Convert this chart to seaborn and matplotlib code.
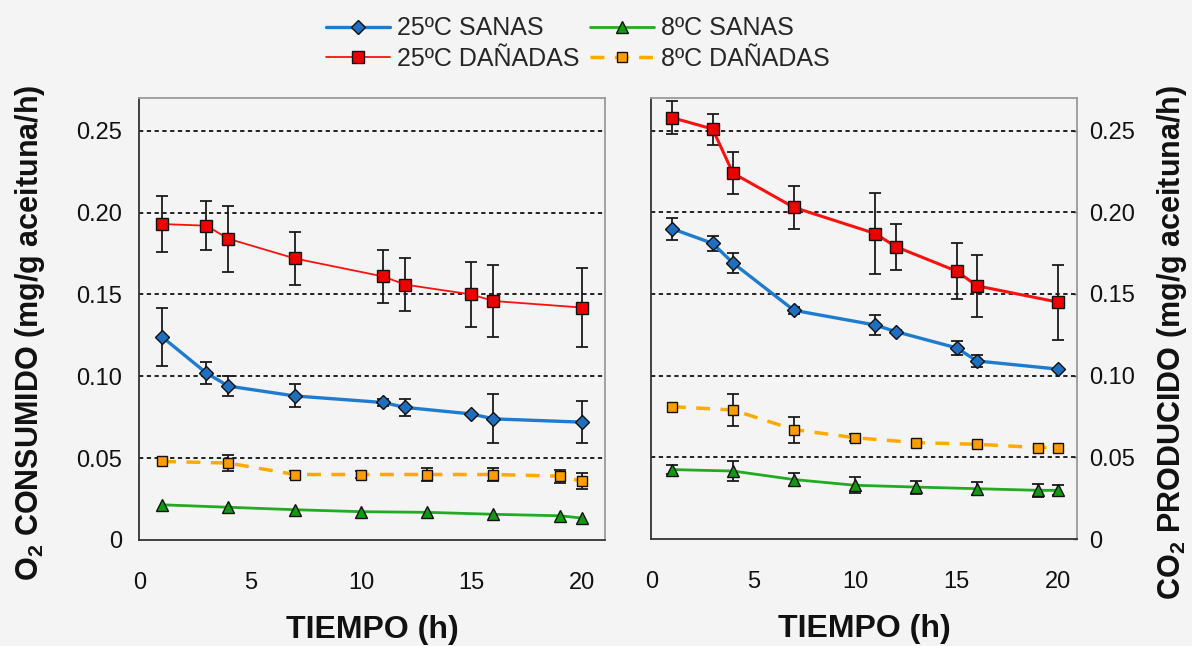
import matplotlib
matplotlib.use("Agg")
import matplotlib.pyplot as plt
from matplotlib.ticker import FixedLocator
import seaborn as sns

# ---------------- data ----------------
hours_a = [1, 3, 4, 7, 11, 12, 15, 16, 20]          # 25 ºC series
hours_b = [1, 4, 7, 10, 13, 16, 19, 20]             # 8 ºC series

# O2 consumed (left panel)
o2_san25 = [0.124, 0.102, 0.094, 0.088, 0.084, 0.081, 0.077, 0.074, 0.072]
o2_san25_err = [0.018, 0.007, 0.006, 0.007, 0.002, 0.005, 0.0, 0.015, 0.013]
o2_dan25 = [0.193, 0.192, 0.184, 0.172, 0.161, 0.156, 0.150, 0.146, 0.142]
o2_dan25_err = [0.017, 0.015, 0.020, 0.016, 0.016, 0.016, 0.020, 0.022, 0.024]
o2_san8 = [0.0215, 0.020, 0.0185, 0.0173, 0.0169, 0.0157, 0.0148, 0.0134]
o2_san8_err = [0.0, 0.0, 0.0, 0.0, 0.0, 0.0, 0.0, 0.0]
o2_dan8 = [0.048, 0.047, 0.040, 0.040, 0.040, 0.040, 0.039, 0.036]
o2_dan8_err = [0.0, 0.005, 0.002, 0.002, 0.004, 0.004, 0.004, 0.005]

# CO2 produced (right panel)
co2_san25 = [0.190, 0.181, 0.169, 0.140, 0.131, 0.127, 0.117, 0.109, 0.104]
co2_san25_err = [0.0067, 0.0045, 0.006, 0.002, 0.0063, 0.001, 0.0045, 0.0035, 0.0]
co2_dan25 = [0.258, 0.251, 0.224, 0.203, 0.187, 0.179, 0.164, 0.155, 0.145]
co2_dan25_err = [0.010, 0.0095, 0.013, 0.013, 0.025, 0.014, 0.017, 0.019, 0.023]
co2_san8 = [0.0425, 0.0416, 0.0364, 0.0329, 0.0318, 0.0308, 0.0298, 0.0298]
co2_san8_err = [0.003, 0.006, 0.004, 0.005, 0.004, 0.004, 0.004, 0.003]
co2_dan8 = [0.081, 0.079, 0.067, 0.062, 0.059, 0.058, 0.056, 0.056]
co2_dan8_err = [0.0, 0.010, 0.008, 0.002, 0.0, 0.0, 0.0, 0.0]

labels = ["25ºC SANAS", "25ºC DAÑADAS", "8ºC SANAS", "8ºC DAÑADAS"]
y_ticks = [0, 0.05, 0.10, 0.15, 0.20, 0.25]
y_ticklabels = ["0", "0.05", "0.10", "0.15", "0.20", "0.25"]
x_ticks = [0, 5, 10, 15, 20]
x_label = "TIEMPO (h)"
y_label_left = "O$_2$ CONSUMIDO (mg/g aceituna/h)"
y_label_right = "CO$_2$ PRODUCIDO (mg/g aceituna/h)"

# ---------------- style ----------------
sns.set_style("white")
BG = "#f4f4f4"
plt.rcParams["font.family"] = ["Liberation Sans", "DejaVu Sans"]
plt.rcParams["mathtext.fontset"] = "custom"
plt.rcParams["mathtext.rm"] = "Liberation Sans"
plt.rcParams["mathtext.default"] = "regular"

styles = {
    "san25": dict(color="#1f7bd0", marker="D", mfc="#1f6fc0", ms=7, lw=2.4, ls="-"),
    "dan25": dict(color="#ff1010", marker="s", mfc="#ee0000", ms=8.5, lw=2.2, ls="-"),
    "san8": dict(color="#22aa22", marker="^", mfc="#119911", ms=8, lw=2.0, ls="-"),
    "dan8": dict(color="#ffaa00", marker="s", mfc="#ff9c00", ms=7.5, lw=2.5, ls=(0, (4, 3))),
}

fig = plt.figure(figsize=(11.92, 6.46), dpi=100, facecolor=BG)
axL = fig.add_axes([139 / 1192, 1 - 540 / 646, 466 / 1192, 442 / 646])
axR = fig.add_axes([651 / 1192, 1 - 539 / 646, 426 / 1192, 441 / 646])


def draw_series(ax, x, y, err, key, label, lw=None, ms=None):
    st = dict(styles[key])
    if lw is not None:
        st["lw"] = lw
    if ms is not None:
        st["ms"] = ms
    xe = [a for a, e in zip(x, err) if e > 0]
    ye = [b for b, e in zip(y, err) if e > 0]
    ee = [e for e in err if e > 0]
    if ee:
        ax.errorbar(xe, ye, yerr=ee, fmt="none", ecolor="#1a1a1a",
                    elinewidth=1.3, capsize=4, capthick=1.3, zorder=3)
    sns.lineplot(x=x, y=y, ax=ax, label=label, color=st["color"],
                 marker=st["marker"], markerfacecolor=st["mfc"],
                 markeredgecolor="#111111", markeredgewidth=1.0,
                 markersize=st["ms"], linewidth=st["lw"], linestyle=st["ls"],
                 errorbar=None, sort=False, zorder=4)


# left panel (O2)
draw_series(axL, hours_a, o2_san25, o2_san25_err, "san25", labels[0])
draw_series(axL, hours_a, o2_dan25, o2_dan25_err, "dan25", labels[1], lw=1.3)
draw_series(axL, hours_b, o2_san8, o2_san8_err, "san8", labels[2])
draw_series(axL, hours_b, o2_dan8, o2_dan8_err, "dan8", labels[3])

# right panel (CO2)
draw_series(axR, hours_a, co2_san25, co2_san25_err, "san25", labels[0])
draw_series(axR, hours_a, co2_dan25, co2_dan25_err, "dan25", labels[1], ms=9)
draw_series(axR, hours_b, co2_san8, co2_san8_err, "san8", labels[2])
draw_series(axR, hours_b, co2_dan8, co2_dan8_err, "dan8", labels[3])

handles, labs = axL.get_legend_handles_labels()
for ax in (axL, axR):
    ax.get_legend().remove()
    ax.set_facecolor(BG)
    ax.set_ylim(0, 0.27)
    ax.set_yticks(y_ticks)
    ax.set_yticklabels(y_ticklabels)
    ax.set_xticks(x_ticks)
    ax.set_xticklabels([str(t) for t in x_ticks])
    for yv in y_ticks[1:]:
        ax.axhline(yv, color="#222222", lw=1.4, ls=(0, (2.2, 1.8)), zorder=1)
    ax.spines["left"].set_color("#333333")
    ax.spines["bottom"].set_color("#333333")
    ax.spines["top"].set_color("#9a9a9a")
    ax.spines["right"].set_color("#9a9a9a")
    for s in ax.spines.values():
        s.set_linewidth(1.3)
    ax.tick_params(axis="x", direction="in", length=3, width=1, color="#555555",
                   labelsize=17, pad=23, labelcolor="#111111")
    ax.tick_params(axis="y", direction="in", length=3, width=1, color="#555555",
                   labelsize=17, labelcolor="#111111")
    ax.set_xlabel(x_label, fontsize=23, fontweight="bold", labelpad=15, color="#111111")
    ax.set_ylabel("")

axL.set_xlim(-0.05, 21.05)
axL.xaxis.set_minor_locator(FixedLocator([2.5, 7.5, 12.5, 17.5]))
axL.tick_params(axis="x", which="minor", direction="in", length=3, width=1, color="#555555")
axL.tick_params(axis="y", pad=12)

axR.set_xlim(-0.03, 20.92)
axR.yaxis.tick_right()
axR.tick_params(axis="y", which="both", left=False, right=True, pad=9)

fig.text(30 / 1192, 1 - 333 / 646, y_label_left, rotation=90, ha="center", va="center",
         fontsize=22, fontweight="bold", color="#111111")
fig.text(1172 / 1192, 1 - 342 / 646, y_label_right, rotation=90, ha="center", va="center",
         fontsize=22, fontweight="bold", color="#111111")

fig.legend(handles, labs, loc="center", bbox_to_anchor=(578 / 1192, 1 - 43.5 / 646),
           ncol=2, frameon=False, fontsize=18, handlelength=2.56, handletextpad=0.3,
           columnspacing=0.4, labelspacing=0.25, borderpad=0.0)

fig.savefig("out.png", dpi=100, facecolor=BG)
